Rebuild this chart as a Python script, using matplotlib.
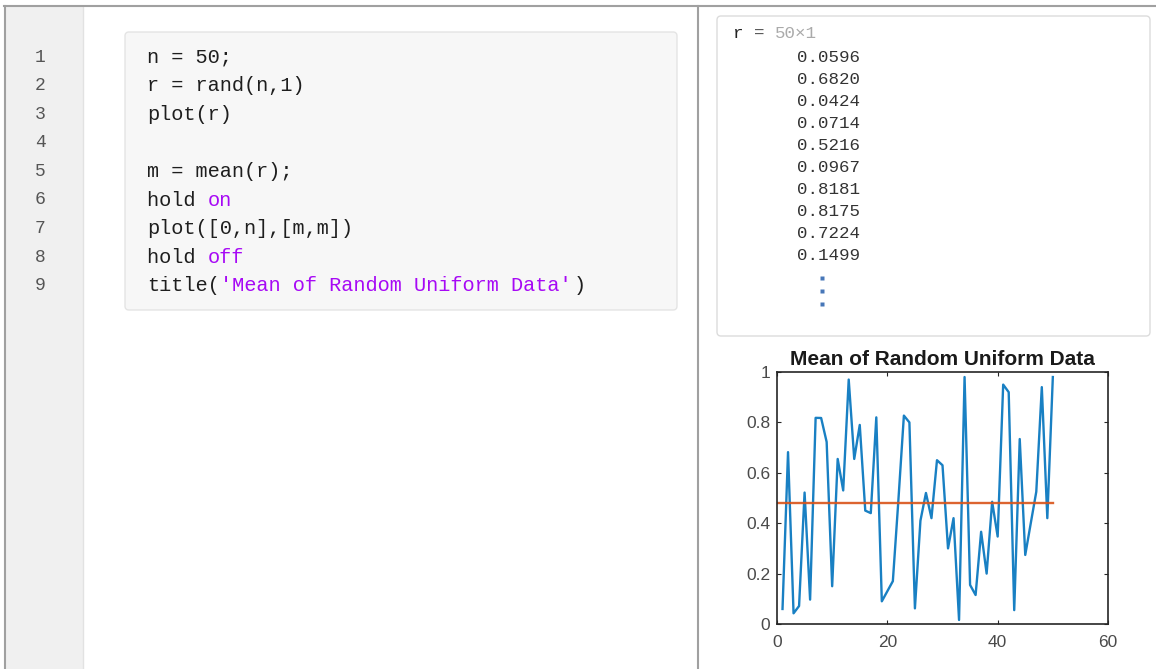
import numpy as np
import matplotlib
matplotlib.use("Agg")
import matplotlib.pyplot as plt
from matplotlib.patches import Rectangle, FancyBboxPatch

# values of r = rand(50,1), first ten as printed, the rest
r = [0.0596, 0.6820, 0.0424, 0.0714, 0.5216, 0.0967, 0.8181, 0.8175, 0.7224, 0.1499,
     0.655, 0.53, 0.97, 0.655, 0.79, 0.45, 0.44, 0.82, 0.09, 0.13,
     0.17, 0.49, 0.827, 0.80, 0.062, 0.41, 0.52, 0.42, 0.65, 0.63,
     0.30, 0.42, 0.016, 0.98, 0.155, 0.115, 0.366, 0.20, 0.485, 0.347,
     0.95, 0.92, 0.055, 0.734, 0.274, 0.40, 0.525, 0.94, 0.42, 0.98]
n = len(r)
shown_rows = 10

xticks = [0, 20, 40, 60]
yticks = [0, 0.2, 0.4, 0.6, 0.8, 1]
plot_title = "Mean of Random Uniform Data"

# code lines, each a list of (text, is_purple)
code_lines = [
    [("n = 50;", False)],
    [("r = rand(n,1)", False)],
    [("plot(r)", False)],
    [],
    [("m = mean(r);", False)],
    [("hold ", False), ("on", True)],
    [("plot([0,n],[m,m])", False)],
    [("hold ", False), ("off", True)],
    [("title(", False), ("'Mean of Random Uniform Data'", True), (")", False)],
]

W, H = 1156, 669
PURPLE = "#a709f5"
TXT = "#1e1e1e"
MONO = ["Liberation Mono", "DejaVu Sans Mono"]

fig = plt.figure(figsize=(W / 100, H / 100), dpi=100)
bg = fig.add_axes([0, 0, 1, 1])
bg.set_xlim(0, W)
bg.set_ylim(H, 0)
bg.axis("off")

# frame + gutter
bg.add_patch(Rectangle((6, 7), 77, H, facecolor="#f0f0f0", edgecolor="none"))
bg.plot([83, 83], [7, H], color="#e2e2e2", lw=1)
bg.plot([4, W], [6, 6], color="#a0a0a0", lw=1.5)
bg.plot([5, 5], [6, H], color="#a0a0a0", lw=1.5)
bg.plot([698, 698], [6, H], color="#a0a0a0", lw=1.5)

# code box
bg.add_patch(FancyBboxPatch((125, 32), 552, 278, boxstyle="round,pad=0,rounding_size=4",
                            facecolor="#f7f7f7", edgecolor="#e4e4e4", lw=1))
charw = 12.2
for k, segs in enumerate(code_lines):
    y = 57 + 28.6 * k
    bg.text(40, y, str(k + 1), ha="center", va="center", fontsize=13,
            family=MONO, color="#555555")
    col = 0
    for txt, purple in segs:
        bg.text(147 + col * charw, y, txt, ha="left", va="center", fontsize=14.6,
                family=MONO, color=PURPLE if purple else TXT)
        col += len(txt)

# output box
bg.add_patch(FancyBboxPatch((717, 16), 433, 320, boxstyle="round,pad=0,rounding_size=4",
                            facecolor="white", edgecolor="#dcdcdc", lw=1))
ocw = 10.5
bg.text(733, 33, "r", ha="left", va="center", fontsize=12.6, family=MONO, color="#222222")
bg.text(733 + 2 * ocw, 33, "=", ha="left", va="center", fontsize=12.6, family=MONO, color="#555555")
bg.text(733 + 4 * ocw, 33, f"{n}\u00d71", ha="left", va="center", fontsize=12.6,
        family=MONO, color="#aaaaaa")
for k in range(shown_rows):
    bg.text(797, 58 + 22 * k, f"{r[k]:.4f}", ha="left", va="center", fontsize=12.6,
            family=MONO, color="#333333")
for yy in [278, 291, 304]:
    bg.plot(822, yy, "s", ms=2.5, color="#4777b8", mec="none")

# the plot
ax = fig.add_axes([777 / W, 1 - 624 / H, (1108 - 777) / W, (624 - 372) / H])
x = np.arange(1, n + 1)
m = np.mean(r)
ax.plot(x, r, color="#0072BD", lw=1.7, alpha=0.9)
ax.plot([0, n], [m, m], color="#D95319", lw=1.7, alpha=0.9)
ax.set_xlim(0, 60)
ax.set_ylim(0, 1)
ax.set_xticks(xticks)
ax.set_yticks(yticks)
ax.set_xticklabels([str(t) for t in xticks])
ax.set_yticklabels([f"{t:g}" for t in yticks])
for s in ax.spines.values():
    s.set_color("#262626")
    s.set_linewidth(1.2)
ax.tick_params(direction="in", top=True, right=True, length=3, width=0.8,
               color="#262626", labelcolor="#4a4a4a", labelsize=12.5)
ax.tick_params(axis="x", pad=8)
ax.tick_params(axis="y", pad=5)
for lab in ax.get_xticklabels() + ax.get_yticklabels():
    lab.set_family("Liberation Sans")
ax.set_title(plot_title, fontsize=15, fontweight="bold", family="Liberation Sans",
             color="#1a1a1a", pad=5)

fig.savefig("out.png", dpi=100)
